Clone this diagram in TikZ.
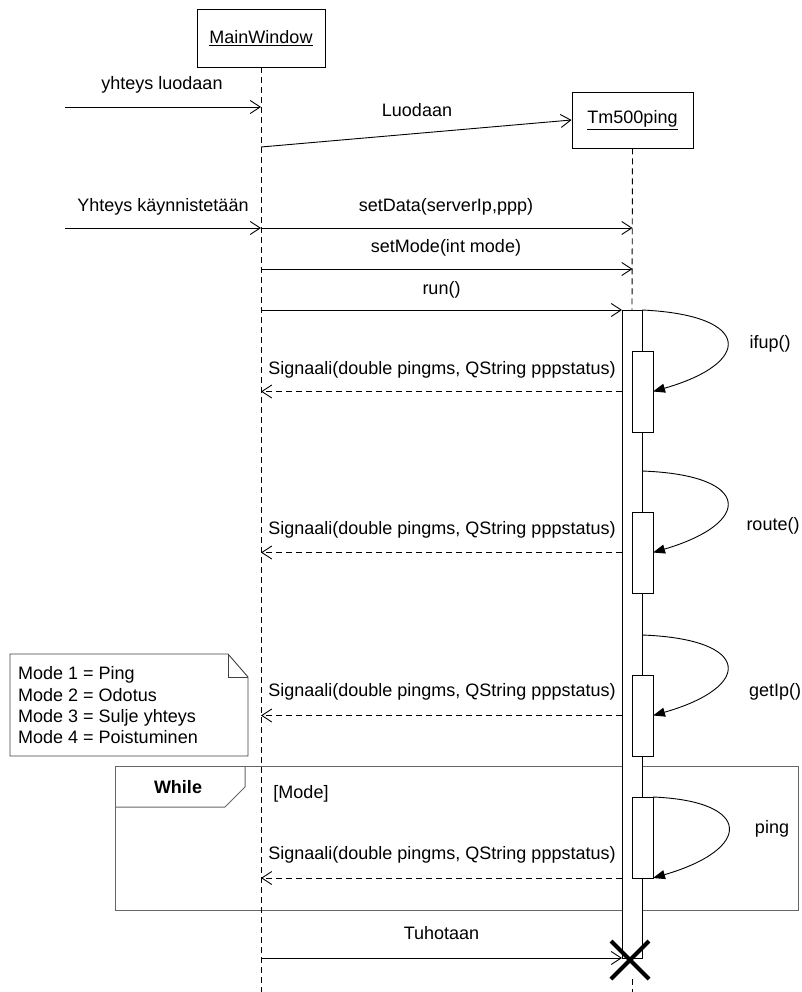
\documentclass[tikz,border=0pt]{standalone}
\usepackage{fontspec}
\setmainfont{Liberation Sans}
\usetikzlibrary{arrows.meta,shapes.misc}
\begin{document}
\begin{tikzpicture}[x=1pt,y=-1pt,
  labelfont/.style={font=\fontsize{18}{21.3}\selectfont},
  txt/.style={labelfont, inner sep=0pt, text height=13pt, text depth=0pt},
  obj/.style={draw, fill=white, line width=0.9pt, inner sep=0pt, labelfont},
  lifeline/.style={line width=0.9pt, dash pattern=on 6pt off 4pt},
  msg/.style={line width=0.9pt, -{Straight Barb[length=10pt,width=13pt,line width=0.9pt]}},
  ret/.style={msg, dash pattern=on 6pt off 4pt},
  selfcall/.style={line width=0.9pt, -{Triangle[length=12pt,width=9pt]}},
  bar/.style={draw, fill=white, line width=0.9pt, inner sep=0pt, outer sep=0pt},
  frame/.style={draw=black!60, line width=1.4pt},
  notebox/.style={draw=black!75, line width=0.9pt},
]
\useasboundingbox (0,0) rectangle (802,992);

% --- objects ---
\node[obj, minimum width=128pt, minimum height=58pt] (mw) at (261,38) {\underline{MainWindow}};
\node[obj, minimum width=121pt, minimum height=56pt] (tm) at (632.5,120) {\underline{Tm500ping}};

% --- loop frame (behind everything else) ---
\node[frame, minimum width=683pt, minimum height=144pt, anchor=north west, inner sep=0pt] (loop) at (115,766) {};
\coordinate (tabA) at (245,766);
\coordinate (tabB) at (245,787);
\coordinate (tabC) at (225,807);
\coordinate (tabD) at (115,807);
\draw[frame, line width=1pt] (tabA) -- (tabB) -- (tabC) -- (tabD);
\node[txt, font=\fontsize{18}{21.3}\selectfont\bfseries] (loopname) at (178,787) {While};
\node[txt] (guard) at (301,792) {[Mode]};

% --- lifelines ---
\coordinate (mwEnd) at (261,992);
\draw[lifeline] (mw.south) -- (mwEnd);

\node[bar, minimum width=20pt, minimum height=648pt, anchor=north] (act) at (632,310) {};
\draw[lifeline] (tm.south) -- (act.north);

\node[draw, cross out, line width=4pt, inner sep=0pt, minimum size=34pt] (kill) at (630,960) {};
\coordinate (tmEnd) at (632,992);
\draw[lifeline] (act.south |- kill.south) -- (tmEnd);

% --- nested activations ---
\node[bar, minimum width=21pt, minimum height=81pt, anchor=north west] (b1) at (632,351) {};
\node[bar, minimum width=21pt, minimum height=81pt, anchor=north west] (b2) at (632,512) {};
\node[bar, minimum width=21pt, minimum height=81pt, anchor=north west] (b3) at (632,675) {};
\node[bar, minimum width=21pt, minimum height=81pt, anchor=north west] (b4) at (632,797) {};

% --- incoming messages ---
\coordinate (in1) at (65,107);
\draw[msg] (in1) -- (mw.south |- in1);
\node[txt] (lin1) at (162,83) {yhteys luodaan};

\coordinate (in2) at (65,228);
\draw[msg] (in2) -- (mw.south |- in2);
\node[txt] (lin2) at (163,205) {Yhteys käynnistetään};

% --- creation ---
\coordinate (mwCreate) at (261,147);
\draw[msg] (mwCreate) -- (tm.west);
\node[txt] (lcreate) at (417,110) {Luodaan};

% --- calls ---
\coordinate (mwSet1) at (261,228);
\draw[msg] (mwSet1) -- (tm.south |- mwSet1);
\node[txt] (lset1) at (446,205) {setData(serverIp,ppp)};

\coordinate (mwSet2) at (261,269);
\draw[msg] (mwSet2) -- (tm.south |- mwSet2);
\node[txt] (lset2) at (446,246) {setMode(int mode)};

\coordinate (mwRun) at (261,310);
\draw[msg] (mwRun) -- (act.north west);
\node[txt] (lrun) at (441.5,288) {run()};

% --- self calls ---
\draw[selfcall] (act.north east) .. controls (753,315) and (753,363) .. (b1.east);
\node[txt] (lifup) at (770,342) {ifup()};

\coordinate (s2) at (642,471);
\draw[selfcall] (s2) .. controls (753,475) and (753,523) .. (b2.east);
\node[txt] (lroute) at (773,524) {route()};

\coordinate (s3) at (642,635);
\draw[selfcall] (s3) .. controls (753,639) and (753,687) .. (b3.east);
\node[txt] (lgetip) at (775,690) {getIp()};

\draw[selfcall] (b4.north east) .. controls (753,801) and (753,849) .. (b4.south east);
\node[txt] (lping) at (772,827) {ping};

% --- signals back to the main window ---
\draw[ret] (act.west |- b1.east) -- (mw.south |- b1.east);
\node[txt] (lsig1) at (442,368) {Signaali(double pingms, QString pppstatus)};
\draw[ret] (act.west |- b2.east) -- (mw.south |- b2.east);
\node[txt] (lsig2) at (442,528) {Signaali(double pingms, QString pppstatus)};
\draw[ret] (act.west |- b3.east) -- (mw.south |- b3.east);
\node[txt] (lsig3) at (442,690) {Signaali(double pingms, QString pppstatus)};
\draw[ret] (act.west |- b4.south) -- (mw.south |- b4.south);
\node[txt] (lsig4) at (442,853) {Signaali(double pingms, QString pppstatus)};

% --- destruction ---
\coordinate (mwKill) at (261,958);
\draw[msg] (mwKill) -- (act.south west);
\node[txt] (lkill) at (441.5,933) {Tuhotaan};

% --- note ---
\coordinate (nA) at (10,654);
\coordinate (nB) at (228,654);
\coordinate (nC) at (248,677);
\coordinate (nD) at (248,756);
\coordinate (nE) at (10,756);
\coordinate (nF) at (228,677);
\draw[notebox] (nA) -- (nB) -- (nC) -- (nD) -- (nE) -- cycle;
\draw[notebox] (nB) -- (nF) -- (nC);
\node[txt, anchor=west] (m1) at (18,673) {Mode 1 = Ping};
\node[txt, anchor=west] (m2) at (18,695) {Mode 2 = Odotus};
\node[txt, anchor=west] (m3) at (18,716) {Mode 3 = Sulje yhteys};
\node[txt, anchor=west] (m4) at (18,737) {Mode 4 = Poistuminen};
\end{tikzpicture}
\end{document}
